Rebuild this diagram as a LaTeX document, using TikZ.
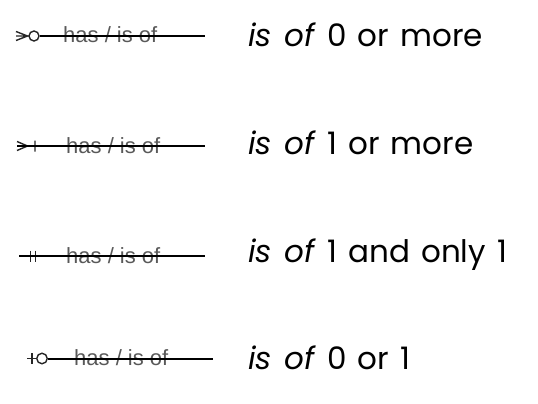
\documentclass[tikz,border=0pt]{standalone}
\usepackage{fontspec}
\setmainfont{Poppins}[Numbers=Monospaced,WordSpace=1.35]
\newfontfamily\labelfont{Liberation Sans}
\begin{document}
\begin{tikzpicture}[x=1pt,y=-1pt,
  rel/.style={line width=2pt,black},
  sym/.style={line width=1.4pt,black!85},
  ring/.style={draw,circle,line width=1.4pt,black!85,inner sep=0pt},
  lbl/.style={font=\labelfont\fontsize{22}{24}\selectfont,text=black!65,inner sep=0pt,anchor=base west},
  desc/.style={font=\fontsize{31}{36}\selectfont,inner sep=0pt,anchor=base west}]
\useasboundingbox (0,0) rectangle (538,404);
% row 1: 0 or more
\node[lbl] (l1) at (63,43) {has / is of};
\node[desc] (d1) at (248,47) {\textit{is of} 0 or more};
\coordinate (b1) at (205,36);
\draw[sym] (16,31.5) -- (27.5,36) -- (16,40.5) (16,36) -- (29,36);
\node[ring,minimum size=10pt] (c1) at (34,36) {};
\draw[rel] (c1.east) -- (b1);
% row 2: 1 or more
\node[lbl] (l2) at (66,153) {has / is of};
\node[desc] (d2) at (248,154) {\textit{is of} 1 or more};
\coordinate (a2) at (17,146);
\coordinate (b2) at (205,146);
\draw[sym] (17,141.5) -- (27.5,146) -- (17,150.5) (35,140.5) -- (35,151.5);
\draw[rel] (a2) -- (b2);
% row 3: 1 and only 1
\node[lbl] (l3) at (66,263) {has / is of};
\node[desc] (d3) at (248,262) {\textit{is of} 1 and only 1};
\coordinate (a3) at (19,256);
\coordinate (b3) at (205,256);
\draw[sym] (30.5,250.5) -- (30.5,261.5) (35.3,250.5) -- (35.3,261.5);
\draw[rel] (a3) -- (b3);
% row 4: 0 or 1
\node[lbl] (l4) at (74,365) {has / is of};
\node[desc] (d4) at (248,369) {\textit{is of} 0 or 1};
\coordinate (a4) at (27,358.5);
\coordinate (b4) at (213,358.5);
\node[ring,minimum size=10.5pt] (c4) at (42,358.5) {};
\draw[sym] (a4) -- (c4.west) (32,353) -- (32,364);
\draw[rel] (c4.east) -- (b4);
\end{tikzpicture}
\end{document}
